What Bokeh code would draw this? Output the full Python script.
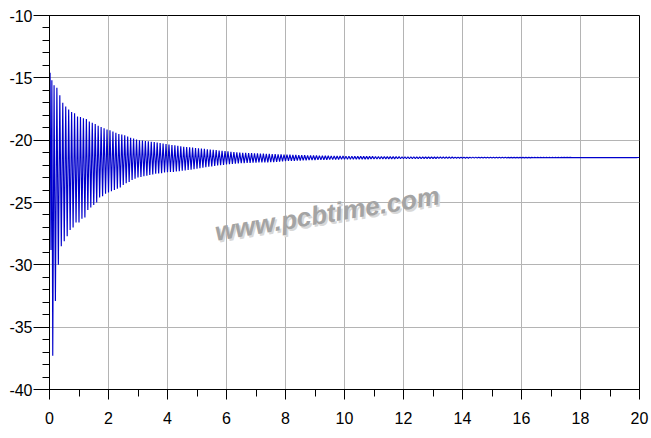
from bokeh.plotting import figure
from bokeh.models import Range1d, FixedTicker
from bokeh.core.properties import value
from bokeh.embed import file_html
from bokeh.resources import INLINE

# ---------------- data ----------------
x_ticks = [0, 2, 4, 6, 8, 10, 12, 14, 16, 18, 20]
x_minor = [1, 3, 5, 7, 9, 11, 13, 15, 17, 19]
y_ticks = [-40, -35, -30, -25, -20, -15, -10]
y_labels = ["-40", "-35", "-30", "-25", "-20", "-15", "-10"]
y_minor = list(range(-40, -9))

period = 0.1  # oscillation period (time units)

# start of the transient
start_t = [0.0, 0.02, 0.05, 0.08, 0.11, 0.155]
start_v = [-22.0, -14.6, -28.8, -15.2, -37.3, -15.6]

# successive minima, one per cycle, from t = 0.2
lows = [
    -32.9, -30.0, -28.5, -28.1, -27.7, -27.2, -27.0, -26.6, -26.6, -26.3,
    -26.2, -25.6, -25.4, -25.2, -25.0, -24.6, -24.5, -24.3, -24.2, -24.1,
    -24.0, -23.9, -23.8, -23.6, -23.45, -23.35, -23.2, -23.1, -23.0, -22.95,
    -22.9, -22.85, -22.8, -22.75, -22.7, -22.68, -22.65, -22.6, -22.58, -22.55,
    -22.55, -22.52, -22.49, -22.46, -22.43, -22.4, -22.36, -22.32, -22.28, -22.24,
    -22.2, -22.17, -22.13, -22.1, -22.07, -22.03, -22.0, -21.98, -21.95, -21.93,
    -21.9, -21.88, -21.86, -21.85, -21.84, -21.83, -21.82, -21.81, -21.8, -21.79,
    -21.79, -21.78, -21.78, -21.77, -21.76, -21.74, -21.72, -21.7, -21.68, -21.67,
    -21.66, -21.65, -21.64, -21.63, -21.62, -21.61, -21.6, -21.6, -21.59, -21.58,
    -21.58, -21.57, -21.57, -21.56, -21.56, -21.55, -21.55, -21.54, -21.54, -21.54,
    -21.53, -21.53, -21.53, -21.52, -21.52, -21.52, -21.52, -21.51, -21.51, -21.51,
    -21.51, -21.50, -21.50, -21.50, -21.50, -21.50, -21.49, -21.49, -21.49, -21.49,
    -21.49, -21.48, -21.48, -21.48, -21.48, -21.47, -21.47, -21.47, -21.47, -21.47,
    -21.46, -21.46, -21.46, -21.46, -21.46, -21.45, -21.45, -21.45, -21.45, -21.45,
    -21.45, -21.44, -21.44, -21.44, -21.44, -21.44, -21.44, -21.43, -21.43, -21.43,
    -21.43, -21.43, -21.43, -21.43, -21.42, -21.42, -21.42, -21.42, -21.42, -21.42,
    -21.42, -21.42, -21.41, -21.41, -21.41, -21.41, -21.41, -21.41, -21.41, -21.41,
    -21.41, -21.41, -21.40, -21.40, -21.40, -21.40, -21.40, -21.40, -21.40, -21.40,
    -21.40, -21.40, -21.40, -21.40, -21.40, -21.40, -21.40, -21.40, -21.40, -21.40,
    -21.40, -21.40, -21.40, -21.40, -21.40, -21.40, -21.40, -21.40,
]

# successive maxima, one per cycle, from t = 0.25
highs = [
    -15.8, -16.4, -17.0, -17.3, -17.55, -17.75, -17.85, -18.1, -18.15, -18.25,
    -18.3, -18.5, -18.6, -18.7, -18.85, -18.95, -19.05, -19.15, -19.2, -19.3,
    -19.4, -19.5, -19.55, -19.6, -19.7, -19.8, -19.87, -19.95, -20.0, -20.03,
    -20.06, -20.09, -20.12, -20.15, -20.18, -20.22, -20.27, -20.3, -20.35, -20.4,
    -20.42, -20.46, -20.5, -20.53, -20.56, -20.58, -20.6, -20.63, -20.65, -20.68,
    -20.7, -20.73, -20.75, -20.78, -20.8, -20.83, -20.85, -20.88, -20.9, -20.93,
    -20.95, -20.97, -21.0, -21.01, -21.02, -21.03, -21.04, -21.05, -21.06, -21.07,
    -21.08, -21.09, -21.1, -21.11, -21.12, -21.13, -21.14, -21.15, -21.16, -21.17,
    -21.18, -21.19, -21.2, -21.2, -21.21, -21.22, -21.22, -21.23, -21.23, -21.24,
    -21.24, -21.25, -21.25, -21.26, -21.26, -21.27, -21.27, -21.27, -21.28, -21.28,
    -21.28, -21.29, -21.29, -21.29, -21.3, -21.3, -21.3, -21.3, -21.31, -21.31,
    -21.31, -21.31, -21.32, -21.32, -21.32, -21.32, -21.32, -21.33, -21.33, -21.33,
    -21.33, -21.33, -21.34, -21.34, -21.34, -21.34, -21.34, -21.34, -21.35, -21.35,
    -21.35, -21.35, -21.35, -21.35, -21.35, -21.36, -21.36, -21.36, -21.36, -21.36,
    -21.36, -21.36, -21.36, -21.37, -21.37, -21.37, -21.37, -21.37, -21.37, -21.37,
    -21.37, -21.37, -21.37, -21.38, -21.38, -21.38, -21.38, -21.38, -21.38, -21.38,
    -21.38, -21.38, -21.38, -21.38, -21.38, -21.38, -21.38, -21.38, -21.38, -21.38,
    -21.38, -21.38, -21.38, -21.38, -21.38, -21.39, -21.39, -21.39, -21.39, -21.39,
    -21.39, -21.39, -21.39, -21.39, -21.39, -21.39, -21.39, -21.39, -21.39, -21.39,
    -21.39, -21.39, -21.39, -21.39, -21.39, -21.39, -21.39, -21.39,
]

end_t = 20.0
end_v = -21.39

# ---------------- assemble the trace ----------------
xs = list(start_t)
ys = list(start_v)
for k, (lo, hi) in enumerate(zip(lows, highs)):
    xs.append(0.2 + k * period)
    ys.append(lo)
    xs.append(0.25 + k * period)
    ys.append(hi)
xs.append(end_t)
ys.append(end_v)

# ---------------- figure ----------------
p = figure(width=651, height=438,
           x_range=Range1d(0, 20), y_range=Range1d(-40, -10),
           output_backend="svg", toolbar_location=None,
           min_border_left=49, min_border_right=12,
           min_border_top=15, min_border_bottom=49)

p.background_fill_color = "white"
p.border_fill_color = "white"
p.outline_line_color = "black"
p.outline_line_width = 1
p.outline_line_alpha = 1

p.xaxis.ticker = FixedTicker(ticks=x_ticks, minor_ticks=x_minor)
p.yaxis.ticker = FixedTicker(ticks=y_ticks, minor_ticks=y_minor)
p.yaxis.major_label_overrides = dict(zip(y_ticks, y_labels))

for ax in (p.xaxis, p.yaxis):
    ax.axis_line_color = "black"
    ax.axis_line_width = 1
    ax.major_tick_line_color = "black"
    ax.minor_tick_line_color = "black"
    ax.major_tick_in = 0
    ax.minor_tick_in = 0
    ax.major_label_text_font = "Liberation Sans"
    ax.major_label_text_font_size = "16px"
    ax.major_label_text_color = "black"

p.xaxis.major_tick_out = 10
p.xaxis.minor_tick_out = 7
p.xaxis.major_label_standoff = 12
p.yaxis.major_tick_out = 16
p.yaxis.minor_tick_out = 7
p.yaxis.major_label_standoff = 1

p.xgrid.grid_line_color = "#b4b4b4"
p.ygrid.grid_line_color = "#b4b4b4"
p.xgrid.grid_line_width = 1
p.ygrid.grid_line_width = 1

# watermark
p.text(x=[9.47], y=[-26.05], text=["www.pcbtime.com"], angle=0.162,
       text_font=value("Liberation Sans"), text_font_style="bold italic",
       text_font_size="26px", text_color="#d8d8d8",
       text_align="center", text_baseline="middle")
p.text(x=[9.41], y=[-25.88], text=["www.pcbtime.com"], angle=0.162,
       text_font=value("Liberation Sans"), text_font_style="bold italic",
       text_font_size="26px", text_color="#a4a4a4",
       text_align="center", text_baseline="middle")

p.line(xs, ys, line_color="#0000CC", line_width=1.15)

open("out.html", "w").write(file_html(p, INLINE))
